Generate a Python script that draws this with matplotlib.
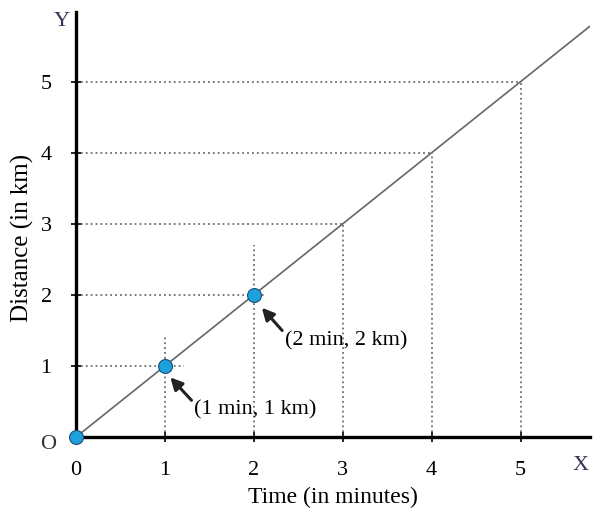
import matplotlib.pyplot as plt

# data
times = [0, 1, 2]          # marked points (min)
dists = [0, 1, 2]          # marked points (km)
line_t = [0, 5.8]          # uniform motion line
line_d = [0, 5.8]
tick_vals = [0, 1, 2, 3, 4, 5]
guide_vals = [1, 2, 3, 4, 5]
vert_tops = {1: 1.42, 2: 2.7, 3: 3, 4: 4, 5: 5}
horiz_ends = {1: 1.22, 2: 2.12, 3: 3, 4: 4, 5: 5}
labels = ["(1 min, 1 km)", "(2 min, 2 km)"]

plt.rcParams['font.family'] = ['Liberation Serif', 'DejaVu Serif']

fig = plt.figure(figsize=(6.01, 5.17), dpi=100)
ax = fig.add_axes([0.1265, 0.1547, 0.855, 0.822])
ax.set_xlim(0, 5.78)
ax.set_ylim(0, 5.98)

# dotted guides
for v in guide_vals:
    ax.plot([0, horiz_ends[v]], [v, v], ls=(0, (1.2, 2)), color='#555555', lw=1.1)
    ax.plot([v, v], [0, vert_tops[v]], ls=(0, (1.2, 2)), color='#555555', lw=1.1)

ax.plot(line_t, line_d, color='#666666', lw=1.2)
ax.plot(times, dists, 'o', ms=10, mfc='#1ea0dc', mec='#1a4f7a', mew=0.8,
        zorder=5, clip_on=False)

# annotations
for lab, xy, xyt in zip(labels, [(1.06, 0.84), (2.09, 1.82)],
                        [(1.33, 0.38), (2.35, 1.36)]):
    ax.annotate(lab, xy=xy, xytext=xyt, fontsize=16, va='center', ha='left',
                arrowprops=dict(arrowstyle='-|>', color='#222222', lw=2.2,
                                mutation_scale=18, shrinkA=0, shrinkB=0,
                                relpos=(0, 0.85)))

for s in ['top', 'right']:
    ax.spines[s].set_visible(False)
ax.spines['left'].set_linewidth(2.4)
ax.spines['bottom'].set_linewidth(2.4)
ax.set_xticks(tick_vals)
ax.set_yticks(guide_vals)
ax.tick_params(direction='inout', length=7, width=1.2, labelsize=16)
ax.tick_params(axis='x', pad=14)
ax.tick_params(axis='y', pad=14)

ax.text(-0.16, 5.85, 'Y', fontsize=16, ha='center', va='center', color='#333355')
ax.text(5.67, -0.4, 'X', fontsize=16, ha='center', va='center', color='#333355')
ax.text(-0.31, -0.1, 'O', fontsize=16, ha='center', va='center', color='#333333')

ax.set_xlabel('Time (in minutes)', fontsize=17, labelpad=5)
ax.set_ylabel('Distance (in km)', fontsize=18)
ax.yaxis.set_label_coords(-0.082, 0.468)

fig.savefig('out.png', dpi=100)
